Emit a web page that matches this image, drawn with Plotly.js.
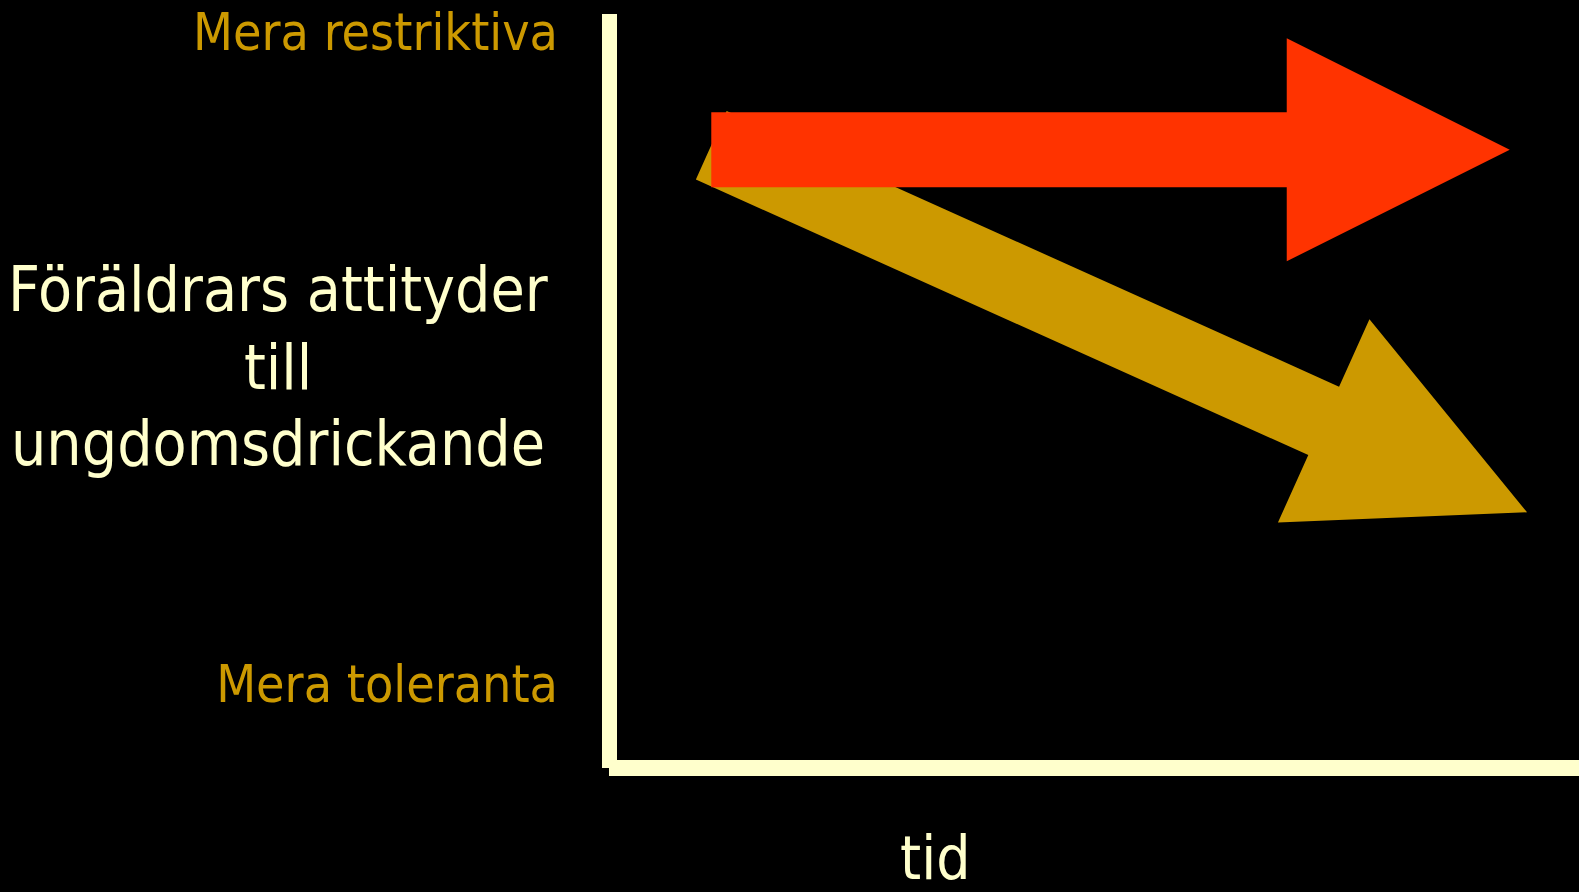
<!DOCTYPE html>
<html>
<head>
<meta charset="utf-8">
<script src="https://cdn.plot.ly/plotly-3.0.1.min.js"></script>
<style>
  html, body { margin: 0; padding: 0; background: #000; }
  #chart { width: 1579px; height: 892px; }
</style>
</head>
<body>
<div id="chart"></div>
<script>
// ---- Data ----
const yTickVals = [97.6, 10.2];
const yTickText = ['Mera restriktiva', 'Mera toleranta'];
const yTitleLines = ['Föräldrars attityder', 'till', 'ungdomsdrickande'];
const xTitle = 'tid';

// gold arrow: attitudes becoming more tolerant over time
const goldTid = [9.8, 94.6];
const goldAttityd = [82.4, 33.2];
// red arrow: attitudes staying restrictive over time
const redTid = [9.8, 92.8];
const redAttityd = [81.8, 81.8];

// ---- Layout constants ----
const W = 1579, H = 892;
const M = { l: 617, r: 0, t: 14, b: 132 };
const X_RANGE = [0, 100], Y_RANGE = [0, 100];
const plotW = W - M.l - M.r, plotH = H - M.t - M.b;

const FONT = '"DejaVu Sans Condensed", "DejaVu Sans", Verdana, sans-serif';
const CREAM = '#FFFFCC', GOLD = '#CC9900', RED = '#FF3300';
const SHAFT_W = 75, HEAD_W = 223, HEAD_L = 223; // pixels
const TITLE_LINE_Y = [289, 367, 444];            // pixel centres of the title lines

// data <-> pixel helpers
const xToPx = x => M.l + (x - X_RANGE[0]) / (X_RANGE[1] - X_RANGE[0]) * plotW;
const yToPx = y => M.t + (Y_RANGE[1] - y) / (Y_RANGE[1] - Y_RANGE[0]) * plotH;
const pxToX = p => X_RANGE[0] + (p - M.l) / plotW * (X_RANGE[1] - X_RANGE[0]);
const pxToY = p => Y_RANGE[1] - (p - M.t) / plotH * (Y_RANGE[1] - Y_RANGE[0]);
const pxToPaperX = p => (p - M.l) / plotW;
const pxToPaperY = p => (H - M.b - p) / plotH;

function arrowPolygon(xs, ys) {
  const x0 = xToPx(xs[0]), y0 = yToPx(ys[0]);
  const x1 = xToPx(xs[1]), y1 = yToPx(ys[1]);
  const dx = x1 - x0, dy = y1 - y0, len = Math.hypot(dx, dy);
  const ux = dx / len, uy = dy / len, nx = -uy, ny = ux;
  const bx = x1 - ux * HEAD_L, by = y1 - uy * HEAD_L;
  const s = SHAFT_W / 2, h = HEAD_W / 2;
  const pts = [
    [x0 + nx * s, y0 + ny * s],
    [bx + nx * s, by + ny * s],
    [bx + nx * h, by + ny * h],
    [x1, y1],
    [bx - nx * h, by - ny * h],
    [bx - nx * s, by - ny * s],
    [x0 - nx * s, y0 - ny * s],
    [x0 + nx * s, y0 + ny * s]
  ];
  return { x: pts.map(p => pxToX(p[0])), y: pts.map(p => pxToY(p[1])) };
}

const gold = arrowPolygon(goldTid, goldAttityd);
const red = arrowPolygon(redTid, redAttityd);

const traces = [
  { type: 'scatter', mode: 'lines', x: gold.x, y: gold.y, fill: 'toself',
    fillcolor: GOLD, line: { width: 0, color: GOLD }, hoverinfo: 'skip', showlegend: false },
  { type: 'scatter', mode: 'lines', x: red.x, y: red.y, fill: 'toself',
    fillcolor: RED, line: { width: 0, color: RED }, hoverinfo: 'skip', showlegend: false }
];

const titleAnnotations = yTitleLines.map((line, i) => ({
  text: line, xref: 'paper', yref: 'paper',
  x: pxToPaperX(278), y: pxToPaperY(TITLE_LINE_Y[i]), xanchor: 'center', yanchor: 'middle',
  align: 'center', showarrow: false, font: { family: FONT, size: 62, color: CREAM }
}));

const layout = {
  width: W, height: H,
  margin: M,
  paper_bgcolor: '#000', plot_bgcolor: '#000',
  showlegend: false,
  font: { family: FONT, color: CREAM },
  xaxis: { range: X_RANGE, showgrid: false, zeroline: false, showticklabels: false,
           ticks: '', showline: false, automargin: false, fixedrange: true },
  yaxis: { range: Y_RANGE, showgrid: false, zeroline: false, ticks: '', showline: false,
           tickvals: yTickVals, ticktext: yTickText,
           tickfont: { family: FONT, size: 51.5, color: GOLD },
           ticklabelstandoff: 58, automargin: false, fixedrange: true },
  shapes: [
    { type: 'rect', xref: 'paper', yref: 'paper', layer: 'above',
      x0: pxToPaperX(602), x1: pxToPaperX(617), y0: pxToPaperY(14), y1: pxToPaperY(768),
      fillcolor: CREAM, line: { width: 0 } },
    { type: 'rect', xref: 'paper', yref: 'paper', layer: 'above',
      x0: pxToPaperX(609), x1: pxToPaperX(1579), y0: pxToPaperY(760), y1: pxToPaperY(776),
      fillcolor: CREAM, line: { width: 0 } }
  ],
  annotations: titleAnnotations.concat([
    { text: xTitle, xref: 'paper', yref: 'paper',
      x: pxToPaperX(935), y: pxToPaperY(858), xanchor: 'center', yanchor: 'middle',
      showarrow: false, font: { family: FONT, size: 60, color: CREAM } }
  ])
};

Plotly.newPlot('chart', traces, layout, { displayModeBar: false, staticPlot: true });
</script>
</body>
</html>
